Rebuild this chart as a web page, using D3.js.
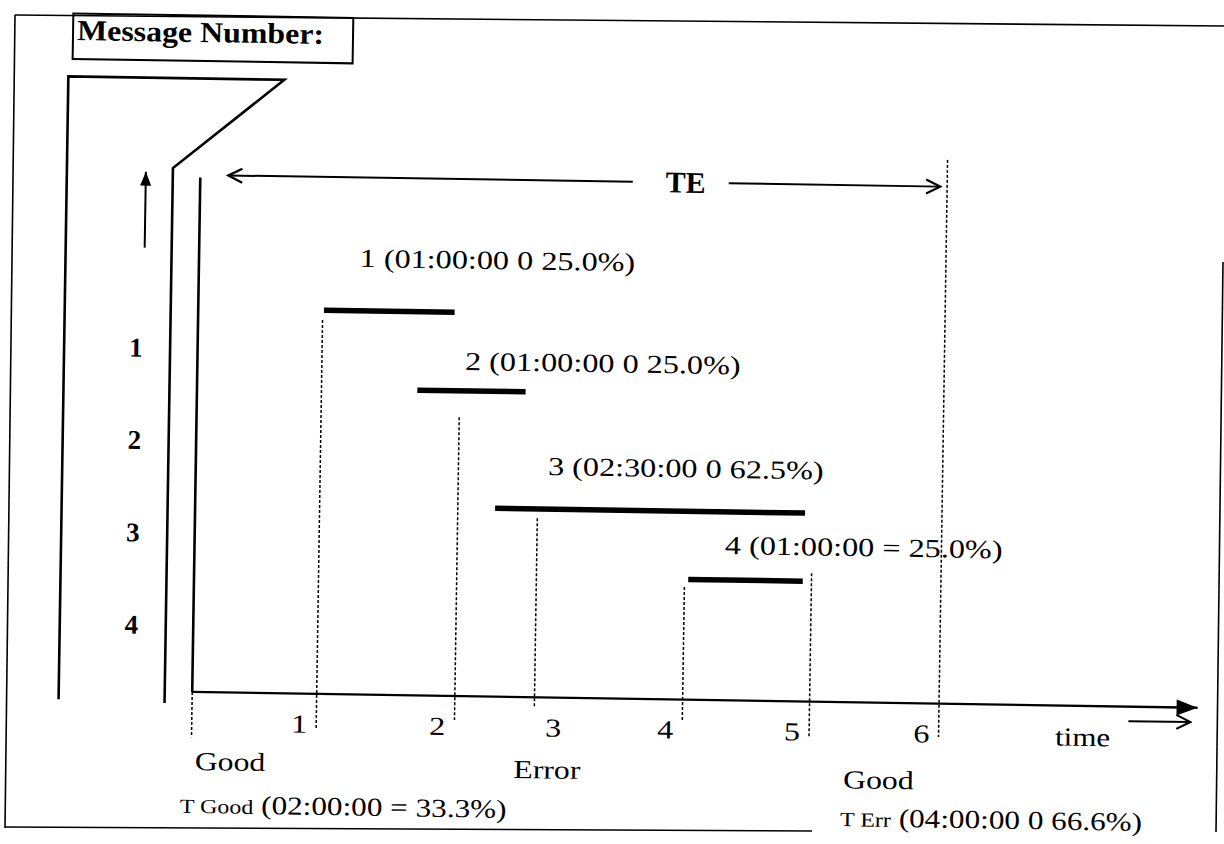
<!DOCTYPE html>
<html>
<head>
<meta charset="utf-8">
<script src="https://cdnjs.cloudflare.com/ajax/libs/d3/7.8.5/d3.min.js"></script>
<style>
  body { margin: 0; background: #fff; }
  svg { display: block; }
</style>
</head>
<body>
<div id="chart"></div>
<script>
// message rows (timeline in hours, rows in "message number" units)
var messageIds  = [1, 2, 3, 4];
var msgStart    = [1.01, 1.77, 2.41, 3.97];
var msgEnd      = [2.06, 2.64, 4.90, 4.89];
var msgRow      = [0.565, 1.414, 2.679, 3.417];
var msgLabels   = ['1 (01:00:00 0 25.0%)', '2 (01:00:00 0 25.0%)',
                   '3 (02:30:00 0 62.5%)', '4 (01:00:00 = 25.0%)'];

// event markers along the time axis
var eventTimes  = [0, 1.0, 2.11, 2.75, 3.94, 4.96, 6.0];
var eventNames  = ['', '1', '2', '3', '4', '5', '6'];
var eventTop    = [4.72, 0.67, 1.70, 2.78, 3.50, 3.33, -1.17];
var eventBottom = [5.21, 5.11, 4.98, 4.83, 4.96, 5.10, 5.08];
var eventSide   = ['', 'left', 'left', 'right', 'left', 'left', 'left'];

// state labels under the axis
var stateNames  = ['Good', 'Error', 'Good'];
var stateTimes  = [0.03, 2.59, 5.24];

// totals
var totalNames  = ['T Good', 'T Err'];
var totalValues = [' (02:00:00 = 33.3%)', ' (04:00:00 0 66.6%)'];
var totalTimes  = [-0.085, 5.22];

var W = 1224, H = 844;
var serif = "'Liberation Serif', 'Times New Roman', serif";

// layout tweaks for the message labels (hours after start, px above bar)
var labelDx = [0.28, 0.38, 0.42, 0.29];
var labelDy = [44, 21, 34, 26];

var svg = d3.select('#chart').append('svg')
    .attr('width', W).attr('height', H);

var defs = svg.append('defs');
defs.append('marker').attr('id', 'solid')
    .attr('viewBox', '-22 -10 24 20').attr('refX', 0).attr('refY', 0)
    .attr('markerWidth', 24).attr('markerHeight', 20)
    .attr('markerUnits', 'userSpaceOnUse').attr('orient', 'auto')
  .append('path').attr('d', 'M0,0 L-21,-8 L-21,8 Z').attr('fill', '#000');
defs.append('marker').attr('id', 'upHead')
    .attr('viewBox', '-16 -7 18 14').attr('refX', 0).attr('refY', 0)
    .attr('markerWidth', 18).attr('markerHeight', 14)
    .attr('markerUnits', 'userSpaceOnUse').attr('orient', 'auto')
  .append('path').attr('d', 'M0,0 L-14,-5.5 L-14,5.5 Z').attr('fill', '#000');
defs.append('marker').attr('id', 'open')
    .attr('viewBox', '-16 -9 18 18').attr('refX', 0).attr('refY', 0)
    .attr('markerWidth', 18).attr('markerHeight', 18)
    .attr('markerUnits', 'userSpaceOnUse').attr('orient', 'auto-start-reverse')
  .append('path').attr('d', 'M-14,-7 L0,0 L-14,7')
    .attr('fill', 'none').attr('stroke', '#000').attr('stroke-width', 2.2);

// outer frame (scanned, slightly skewed)
var frame = [[[15, 15], [1224, 26]], [[15, 15], [5, 828]],
             [[5, 827], [812, 831]], [[1223, 262], [1216, 832]]];
svg.selectAll('.frame').data(frame).enter().append('line')
    .attr('x1', function (d) { return d[0][0]; }).attr('y1', function (d) { return d[0][1]; })
    .attr('x2', function (d) { return d[1][0]; }).attr('y2', function (d) { return d[1][1]; })
    .attr('stroke', '#000').attr('stroke-width', 1.6);

// the whole drawing sits slightly rotated in the scan
var g = svg.append('g').attr('transform', 'rotate(0.9,612,422)');

var x = d3.scaleLinear().domain([0, 6]).range([196.5, 943.4]);
var y = d3.scaleLinear().domain([1, 4]).range([355, 632]);
var axisY = y(4.72);

function stretch(sel, px, py, sx) {
    return sel.attr('transform', 'translate(' + px + ',' + py + ') scale(' + sx + ',1)');
}

// title box
g.append('rect').attr('x', 67).attr('y', 22).attr('width', 280).attr('height', 45.5)
    .attr('fill', 'none').attr('stroke', '#000').attr('stroke-width', 2);
stretch(g.append('text').text('Message Number:')
    .attr('font-family', serif).attr('font-weight', 'bold').attr('font-size', 29), 71, 48.5, 1.1);

// bracket shape
g.append('path').attr('d', 'M63,708 L63,85 L279,85 L169,175 L169,710')
    .attr('fill', 'none').attr('stroke', '#000').attr('stroke-width', 2.6)
    .attr('stroke-linejoin', 'miter');
g.append('line').attr('x1', x(0)).attr('x2', x(0)).attr('y1', 184).attr('y2', axisY)
    .attr('stroke', '#000').attr('stroke-width', 2.6);

// up arrow
g.append('line').attr('x1', 142).attr('x2', 142).attr('y1', 255).attr('y2', 179)
    .attr('stroke', '#000').attr('stroke-width', 2).attr('marker-end', 'url(#upHead)');

// message number labels
var yAxis = d3.axisLeft(y).tickValues(messageIds).tickSize(0).tickPadding(0)
    .tickFormat(d3.format('d'));
var ya = g.append('g').attr('transform', 'translate(141.5,0)').call(yAxis);
ya.select('.domain').remove();
ya.selectAll('text').attr('font-family', serif).attr('font-weight', 'bold')
    .attr('font-size', 27).attr('fill', '#000');

// time axis
g.append('line').attr('x1', x(0)).attr('x2', W - 22).attr('y1', axisY).attr('y2', axisY)
    .attr('stroke', '#000').attr('stroke-width', 2.4).attr('marker-end', 'url(#solid)');

// event dashed lines
var events = eventTimes.map(function (t, i) {
    return { t: t, name: eventNames[i], top: eventTop[i], bottom: eventBottom[i], side: eventSide[i] };
});
g.selectAll('.evt').data(events).enter().append('line')
    .attr('x1', function (d) { return x(d.t); }).attr('x2', function (d) { return x(d.t); })
    .attr('y1', function (d) { return y(d.top); }).attr('y2', function (d) { return y(d.bottom); })
    .attr('stroke', '#000').attr('stroke-width', 1.5).attr('stroke-dasharray', '3,2');

g.selectAll('.evtLabel').data(events.filter(function (d) { return d.name; })).enter()
    .append('text').text(function (d) { return d.name; })
    .attr('font-family', serif).attr('font-size', 26)
    .attr('text-anchor', function (d) { return d.side === 'left' ? 'end' : 'start'; })
    .each(function (d) {
        var px = d.side === 'left' ? x(d.t) - 9 : x(d.t) + 11;
        stretch(d3.select(this), px, axisY + 39, 1.24);
    });

// time label with small arrow
stretch(g.append('text').text('time').attr('font-family', serif).attr('font-size', 26),
    1060, axisY + 40, 1.19);
g.append('line').attr('x1', 1133).attr('x2', 1195).attr('y1', axisY + 14.5).attr('y2', axisY + 14.5)
    .attr('stroke', '#000').attr('stroke-width', 2).attr('marker-end', 'url(#open)');

// TE span
var teY = 181.5;
g.append('line').attr('x1', x(0) + 28).attr('x2', 629).attr('y1', teY).attr('y2', teY)
    .attr('stroke', '#000').attr('stroke-width', 2).attr('marker-start', 'url(#open)');
g.append('line').attr('x1', 725).attr('x2', x(6) - 7).attr('y1', teY).attr('y2', teY)
    .attr('stroke', '#000').attr('stroke-width', 2).attr('marker-end', 'url(#open)');
g.append('text').text('TE').attr('x', 682).attr('y', teY + 10)
    .attr('text-anchor', 'middle').attr('font-family', serif)
    .attr('font-weight', 'bold').attr('font-size', 30);

// message bars
var msgs = messageIds.map(function (id, i) {
    return { id: id, s: msgStart[i], e: msgEnd[i], row: msgRow[i], label: msgLabels[i],
             dx: labelDx[i], dy: labelDy[i] };
});
g.selectAll('.bar').data(msgs).enter().append('line')
    .attr('x1', function (d) { return x(d.s); }).attr('x2', function (d) { return x(d.e); })
    .attr('y1', function (d) { return y(d.row); }).attr('y2', function (d) { return y(d.row); })
    .attr('stroke', '#000').attr('stroke-width', 5.5);
g.selectAll('.barLabel').data(msgs).enter().append('text')
    .text(function (d) { return d.label; })
    .attr('font-family', serif).attr('font-size', 26)
    .each(function (d) {
        stretch(d3.select(this), x(d.s + d.dx), y(d.row) - d.dy, 1.24);
    });

// state labels
var stateDy = [78, 81, 86];
stateNames.forEach(function (name, i) {
    stretch(g.append('text').text(name).attr('font-family', serif).attr('font-size', 26),
        x(stateTimes[i]), axisY + stateDy[i], 1.22);
});

// totals
var totalDy = [121, 124];
totalNames.forEach(function (name, i) {
    var t = g.append('text').attr('font-family', serif).attr('font-size', 26);
    t.append('tspan').attr('font-size', 20).text(name);
    t.append('tspan').text(totalValues[i]);
    stretch(t, x(totalTimes[i]), axisY + totalDy[i], 1.2);
});
</script>
</body>
</html>
